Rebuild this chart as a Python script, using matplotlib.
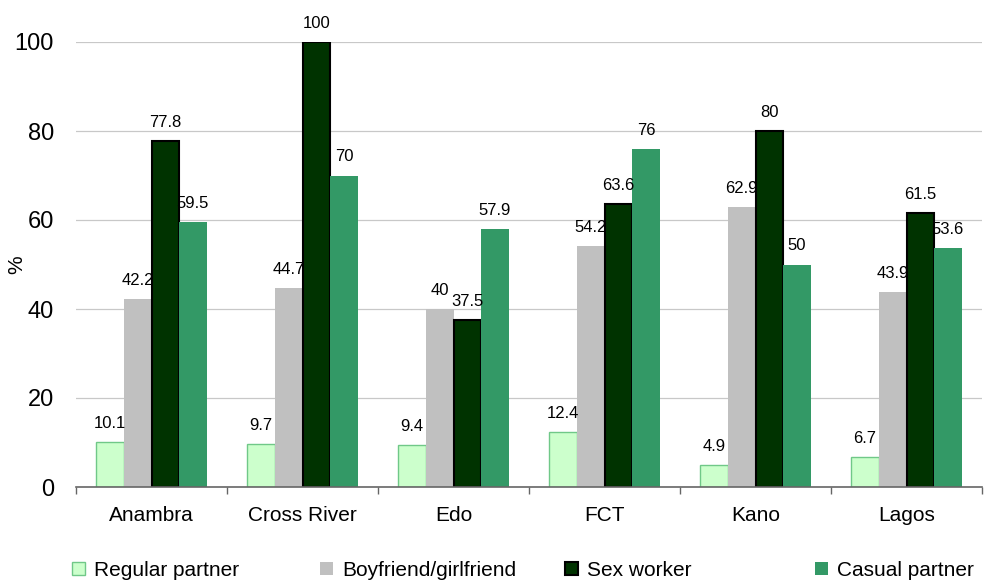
import matplotlib
matplotlib.use("Agg")
import matplotlib.pyplot as plt
from matplotlib.patches import Patch
import numpy as np

plt.rcParams['font.family'] = ['Liberation Sans', 'DejaVu Sans']

categories = ["Anambra", "Cross River", "Edo", "FCT", "Kano", "Lagos"]
series_names = ["Regular partner", "Boyfriend/girlfriend", "Sex worker", "Casual partner"]
regular = [10.1, 9.7, 9.4, 12.4, 4.9, 6.7]
boyfriend = [42.2, 44.7, 40, 54.2, 62.9, 43.9]
sex_worker = [77.8, 100, 37.5, 63.6, 80, 61.5]
casual = [59.5, 70, 57.9, 76, 50, 53.6]
yticks = [0, 20, 40, 60, 80, 100]

series = [regular, boyfriend, sex_worker, casual]
faces = ["#CCFFCC", "#C0C0C0", "#003300", "#339966"]
edges = ["#70C888", "#C0C0C0", "#000000", "#339966"]
lws = [1.0, 0.0, 1.5, 0.0]

fig = plt.figure(figsize=(9.84, 5.83), dpi=100)
ax = fig.add_axes([76/984, 1-487/583, 906/984, 445/583])

x = np.arange(len(categories))
w = 0.183
for i, (vals, fc, ec, lw) in enumerate(zip(series, faces, edges, lws)):
    pos = x + (i - 1.5) * w
    bars = ax.bar(pos, vals, width=w, color=fc, edgecolor=ec, linewidth=lw, zorder=2)
    for p, v in zip(pos, vals):
        ax.annotate(f"{v:g}", xy=(p, v), xytext=(0, 8), textcoords="offset points",
                    ha="center", va="bottom", fontsize=12, color="black", zorder=5)

ax.set_xlim(-0.5, len(categories) - 0.5)
ax.set_ylim(0, 100)
ax.set_yticks(yticks)
ax.set_yticklabels([str(t) for t in yticks], fontsize=17)
ax.tick_params(axis="y", length=0, pad=16)
ax.yaxis.grid(True, color="#C8C8C8", linewidth=0.9)
ax.set_axisbelow(True)

ax.set_xticks(x)
ax.set_xticklabels(categories, fontsize=15)
ax.tick_params(axis="x", which="major", length=0, pad=14)
ax.set_xticks(np.arange(len(categories) + 1) - 0.5, minor=True)
ax.tick_params(axis="x", which="minor", length=5, width=1, color="#666666", direction="out")

for s in ["top", "right", "left"]:
    ax.spines[s].set_visible(False)
ax.spines["bottom"].set_color("#666666")
ax.spines["bottom"].set_linewidth(1.2)

ax.set_ylabel("%", fontsize=15)
ax.yaxis.set_label_coords((26-76)/906, 0.5)

legend_x = [72, 320, 565, 815]
for name, fc, ec, lw, lx in zip(series_names, faces, edges, lws, legend_x):
    h = Patch(facecolor=fc, edgecolor=ec, linewidth=max(lw, 0.0))
    fig.legend(handles=[h], labels=[name], loc="center left",
               bbox_to_anchor=(lx/984, 1-570/583), frameon=False, fontsize=15,
               handlelength=0.6, handleheight=0.6, handletextpad=0.45,
               borderpad=0, borderaxespad=0)

fig.savefig("out.png", dpi=100)
